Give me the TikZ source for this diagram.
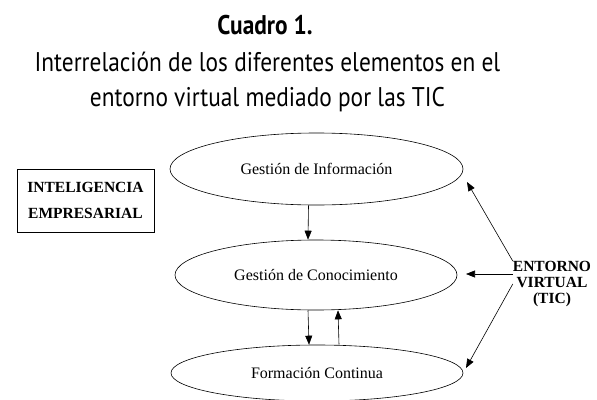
\documentclass[tikz,border=0pt]{standalone}
\usepackage{fontspec}
\setmainfont{Liberation Serif}
\newfontfamily\titlefont[FakeStretch=0.865]{PT Sans}
\usetikzlibrary{arrows.meta,shapes.geometric}
\begin{document}
\begin{tikzpicture}[x=1pt,y=-1pt,
	elipse/.style={draw,ellipse,line width=0.6pt,inner sep=0pt,font=\fontsize{16}{18}\selectfont},
	flecha/.style={-{Triangle[length=9pt,width=7pt]},line width=0.6pt},
	titulo/.style={anchor=base,inner sep=0pt,font=\titlefont\fontsize{27}{32}\selectfont},
	negrita/.style={align=center,inner sep=0pt}]
	\useasboundingbox (0,0) rectangle (597,399);
	% titulo
	\node[titulo,font=\titlefont\bfseries\fontsize{27}{32}\selectfont] (cuadro) at (265,34) {Cuadro 1.};
	\node[titulo] (linea1) at (267.5,71) {Interrelación de los diferentes elementos en el};
	\node[titulo] (linea2) at (267.5,106) {entorno virtual mediado por las TIC};
	% elipses
	\node[elipse,minimum width=293,minimum height=72] (gi) at (316.5,169) {Gestión de Información};
	\node[elipse,minimum width=282,minimum height=70] (gc) at (316,275) {Gestión de Conocimiento};
	\node[elipse,minimum width=292,minimum height=56] (gf) at (317,373) {Formación Continua};
	% cuadros de texto
	\node[draw,line width=0.6pt,negrita,minimum width=137,minimum height=63,font=\bfseries\fontsize{15.5}{26}\selectfont] (ie) at (85.5,200.5) {INTELIGENCIA\\EMPRESARIAL};
	\node[negrita,font=\bfseries\fontsize{15.5}{16}\selectfont] (ent) at (552,284) {ENTORNO\\VIRTUAL\\(TIC)};
	\coordinate (pi) at (467,182);
	\coordinate (pc) at (466,274);
	\coordinate (pf) at (466,368);
	% flechas
	\draw[flecha] ([xshift=-8pt]gi.south) -- ([xshift=-8pt]gc.north);
	\draw[flecha] ([xshift=-8pt]gc.south) -- ([xshift=-8pt]gf.north);
	\draw[flecha] ([xshift=22pt]gf.north) -- ([xshift=22pt]gc.south);
	\draw[flecha] (ent.north west) -- (pi);
	\draw[flecha] (ent.west |- pc) -- (pc);
	\draw[flecha] (ent.west) -- (pf);
\end{tikzpicture}
\end{document}
